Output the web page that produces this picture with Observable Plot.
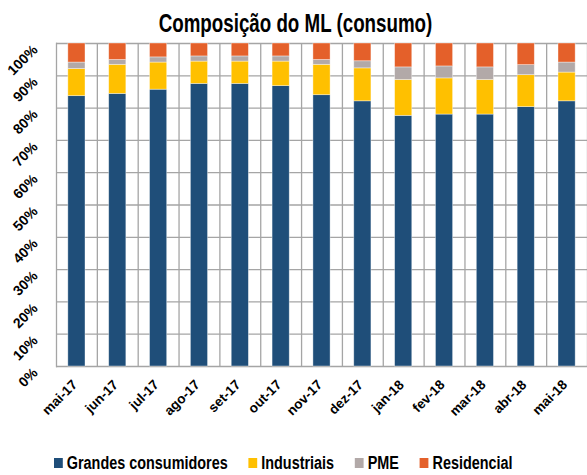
<!DOCTYPE html>
<html>
<head>
<meta charset="utf-8">
<script src="https://cdn.jsdelivr.net/npm/d3@7"></script>
<script src="https://cdn.jsdelivr.net/npm/@observablehq/plot@0.6"></script>
<style>
  html, body { margin: 0; padding: 0; background: #fff; }
  body { width: 587px; height: 475px; position: relative; overflow: hidden; font-family: "Liberation Sans", Arial, sans-serif; }
  #title { position: absolute; left: 2px; top: 8px; width: 587px; text-align: center; font-size: 25px; line-height: 30px; font-weight: bold; color: #000; transform: scaleX(0.75); transform-origin: center; white-space: nowrap; }
  #chart { position: absolute; left: 0; top: 0; }
  #legend { position: absolute; left: 54px; top: 450px; display: flex; align-items: center; font-size: 18px; line-height: 26px; font-weight: bold; color: #000; transform: scaleX(0.8); transform-origin: left center; white-space: nowrap; }
  .item { display: flex; align-items: center; margin-right: 26px; }
  .sw { width: 11px; height: 10px; margin-right: 5px; }
</style>
</head>
<body>
<div id="chart"></div>
<div id="title">Composição do ML (consumo)</div>
<div id="legend"></div>
<script>
const meses = ["mai-17","jun-17","jul-17","ago-17","set-17","out-17","nov-17","dez-17","jan-18","fev-18","mar-18","abr-18","mai-18"];
const grandes     = [83.7, 84.4, 85.7, 87.5, 87.5, 86.8, 84.0, 82.1, 77.6, 78.0, 78.0, 80.3, 82.1];
const industriais = [ 8.4,  9.0,  8.4,  6.9,  6.9,  7.6,  9.4, 10.2, 11.1, 11.2, 10.7,  9.9,  8.9];
const pme         = [ 2.0,  1.5,  1.6,  1.6,  1.6,  1.6,  1.5,  2.2,  3.9,  3.7,  3.9,  3.1,  3.1];
const residencial = [ 5.9,  5.1,  4.3,  4.0,  4.0,  4.0,  5.1,  5.5,  7.4,  7.1,  7.4,  6.7,  5.9];
const series = ["Grandes consumidores", "Industriais", "PME", "Residencial"];
const cores = ["#1F4E79", "#FFC000", "#B2A9A8", "#E4602A"];
const yTicks = [0,10,20,30,40,50,60,70,80,90,100];

const valores = [grandes, industriais, pme, residencial];
const data = [];
meses.forEach((m, i) => series.forEach((s, j) => data.push({mes: m, serie: s, valor: valores[j][i]})));

const W = 587, H = 446, ML = 56, MR = 0, MT = 43, MB = 80;
const step = (W - ML - MR) / meses.length;

const chart = Plot.plot({
  width: W, height: H,
  marginLeft: ML, marginRight: MR, marginTop: MT, marginBottom: MB,
  style: {fontFamily: '"Liberation Sans", Arial, sans-serif', fontSize: "14px", fontWeight: "bold", color: "#000", background: "#fff"},
  x: {domain: meses, paddingInner: 0.58, paddingOuter: 0.29, round: false, label: null},
  y: {domain: [0, 100], label: null},
  color: {domain: series, range: cores},
  marks: [
    Plot.gridY(yTicks, {stroke: "#a5a5a5", strokeOpacity: 1, strokeWidth: 1.3}),
    Plot.gridX(meses, {stroke: "#a5a5a5", strokeOpacity: 1, strokeWidth: 1.3, dx: step / 2}),
    Plot.frame({anchor: "left", stroke: "#a5a5a5", strokeWidth: 1.3}),
    Plot.barY(data, {x: "mes", y: "valor", fill: "serie", z: "serie", order: series, stroke: "#ffffff", strokeOpacity: 0.5, strokeWidth: 0.75}),
    Plot.axisY(yTicks, {tickSize: 0, tickRotate: -45, tickPadding: 21, dy: 4, tickFormat: d => d + "%", fontWeight: "bold", fontSize: 14, fill: "#000"}),
    Plot.axisX(meses, {tickSize: 0, tickRotate: -45, tickPadding: 16, dx: -2, fontWeight: "bold", fontSize: 13.5, fill: "#000"})
  ]
});
document.getElementById("chart").appendChild(chart);

const legend = document.getElementById("legend");
series.forEach((s, i) => {
  const it = document.createElement("div");
  it.className = "item";
  const sw = document.createElement("span");
  sw.className = "sw";
  sw.style.background = cores[i];
  const tx = document.createElement("span");
  tx.textContent = s;
  it.appendChild(sw); it.appendChild(tx);
  legend.appendChild(it);
});
</script>
</body>
</html>
